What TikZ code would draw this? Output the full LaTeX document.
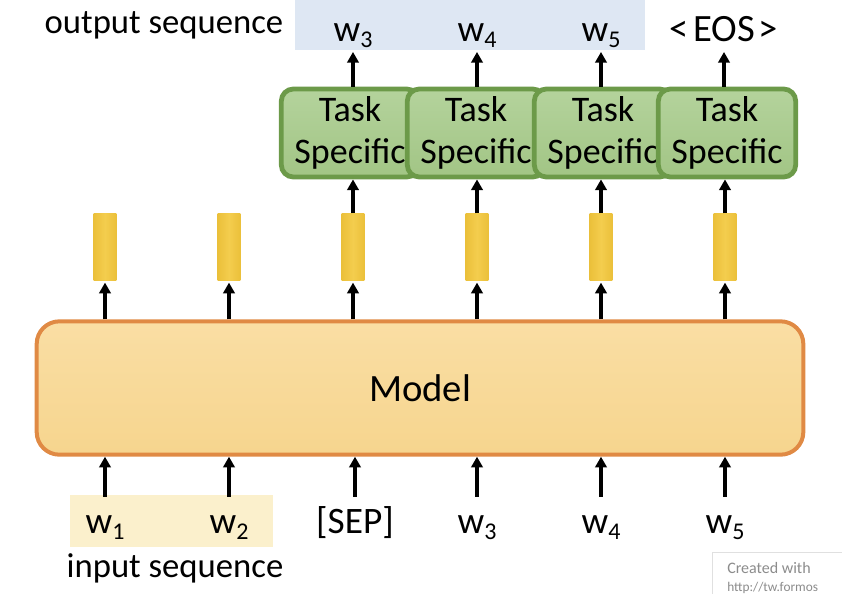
\documentclass[tikz,border=0pt]{standalone}
\usepackage{fontspec}
\setmainfont{Carlito}
\usetikzlibrary{arrows.meta}
\definecolor{outbg}{HTML}{DEE7F3}
\definecolor{inbg}{HTML}{FBF0CC}
\definecolor{modeltop}{HTML}{FADEA4}
\definecolor{modelbot}{HTML}{F6D58E}
\definecolor{modeldraw}{HTML}{E08A44}
\definecolor{baredge}{HTML}{EBC03A}
\definecolor{barmid}{HTML}{F4CD4E}
\definecolor{tasktop}{HTML}{B4D39C}
\definecolor{taskbot}{HTML}{A2C585}
\definecolor{taskdraw}{HTML}{6C9A49}
\newcommand{\wsub}[1]{w\raisebox{-5pt}{\fontsize{18}{18}\selectfont #1}}
\tikzset{
  arr/.style={line width=2.3pt, -{Triangle[width=8.5pt,length=8pt]}},
  tok/.style={anchor=base, inner sep=0pt, font=\fontsize{28}{30}\selectfont, text height=27pt, text depth=8pt},
  lbl/.style={inner sep=0pt, font=\fontsize{26}{30}\selectfont},
  vec/.style={draw=none, left color=baredge, right color=baredge, middle color=barmid,
     minimum width=17pt, minimum height=50pt, inner sep=0pt},
  taskbox/.style={draw=taskdraw, top color=tasktop, bottom color=taskbot, line width=3.6pt, rounded corners=9pt,
     minimum width=103pt, minimum height=66pt, inner sep=0pt, align=center,
     font=\fontsize{27}{32}\selectfont},
  modelbox/.style={draw=modeldraw, top color=modeltop, bottom color=modelbot, line width=3pt, rounded corners=17pt,
     minimum width=575pt, minimum height=100pt, inner sep=0pt, font=\fontsize{29}{32}\selectfont}
}
\begin{document}
\begin{tikzpicture}[x=0.75pt,y=-0.75pt]
\useasboundingbox (0,0) rectangle (842,593);
\clip (0,0) rectangle (842,593);
% background highlights
\fill[outbg] (295,0) rectangle (645,50);
\fill[inbg] (70,495) rectangle (273,547);
% model
\node[modelbox] (model) at (420,388) {Model};
% vectors
\foreach \i/\x in {1/105,2/229,3/353,4/477,5/601,6/725}{
  \node[vec] (b\i) at (\x,247) {};
  \draw[arr] (b\i |- model.north) -- ([yshift=-1.5pt]b\i.south);
}
% input tokens
\node[tok] (i1) at (105,533) {\wsub{1}};
\node[tok] (i2) at (229,533) {\wsub{2}};
\node[tok] (i3) at (355,533) {[SEP]};
\node[tok] (i4) at (477,533) {\wsub{3}};
\node[tok] (i5) at (601,533) {\wsub{4}};
\node[tok] (i6) at (725,533) {\wsub{5}};
\foreach \i in {1,...,6}{
  \draw[arr] (i\i.north) -- (i\i |- model.south);
}
\node[lbl] (inlabel) at (175,568) {input sequence};
% task specific boxes
\node[taskbox] (t3) at (350,133) {Task\\Specific};
\node[taskbox] (t4) at (476,133) {Task\\Specific};
\node[taskbox] (t5) at (603,133) {Task\\Specific};
\node[taskbox] (t6) at (727,133) {Task\\Specific};
% output tokens
\node[tok] (o3) at (353,41) {\wsub{3}};
\node[tok] (o4) at (477,41) {\wsub{4}};
\node[tok] (o5) at (601,41) {\wsub{5}};
\node[tok, font=\fontsize{29}{30}\selectfont] (o6) at (724,41) {<\hspace{3pt}EOS\hspace{3pt}>};
\foreach \i in {3,...,6}{
  \draw[arr] (b\i.north) -- (b\i |- t\i.south);
  \draw[arr] (o\i |- t\i.north) -- (o\i.south);
}
\node[lbl] (outlabel) at (164,25) {output sequence};
% watermark
\node[draw=black!12, fill=white, line width=1pt, minimum width=110pt, minimum height=40pt, anchor=north west] (wm) at (712,552) {};
\node[anchor=west, inner sep=0pt, text=black!45, font=\fontsize{12}{12}\selectfont] (wm1) at (727,568) {Created with};
\node[anchor=west, inner sep=0pt, text=black!45, font=\fontsize{10}{10}\selectfont] (wm2) at (727,588) {http://tw.formos};
\end{tikzpicture}
\end{document}
